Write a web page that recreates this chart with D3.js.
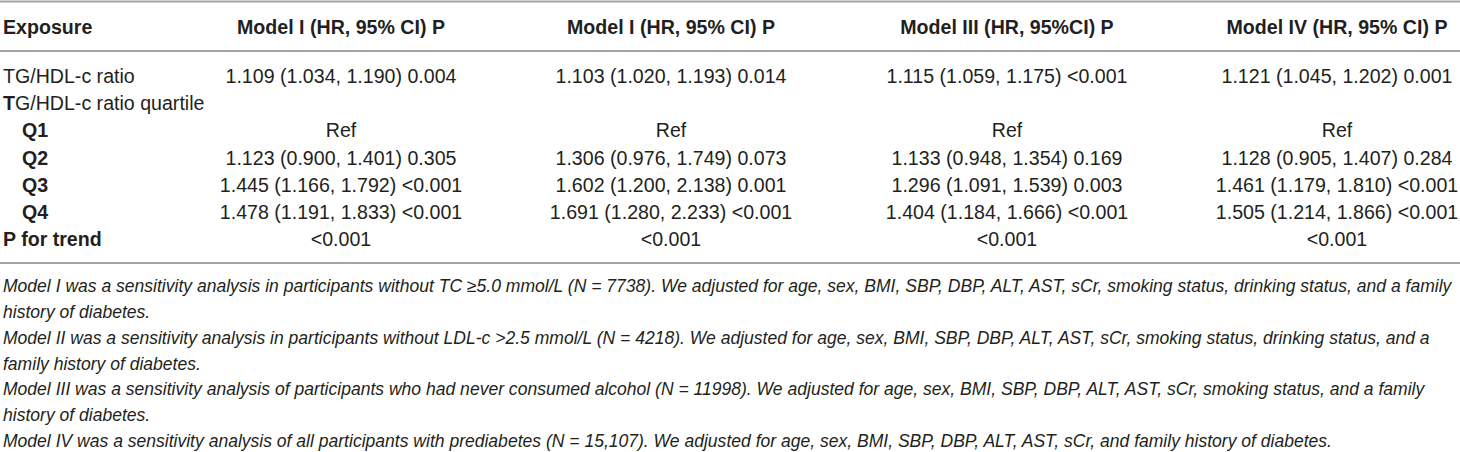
<!DOCTYPE html>
<html>
<head>
<meta charset="utf-8">
<script src="https://cdn.jsdelivr.net/npm/d3@7"></script>
<style>
    html, body { margin: 0; padding: 0; background: #fff; }
    svg { display: block; font-family: "Liberation Sans", Arial, Helvetica, sans-serif; }
</style>
</head>
<body>
<div id="table"></div>
<script>
// Column headers
const columnHeaders = ['Exposure', 'Model I (HR, 95% CI) P', 'Model I (HR, 95% CI) P', 'Model III (HR, 95%CI) P', 'Model IV (HR, 95% CI) P'];

// Row labels (first column)
const rowLabels = ['TG/HDL-c ratio', 'TG/HDL-c ratio quartile', 'Q1', 'Q2', 'Q3', 'Q4', 'P for trend'];

// Cell values per model
const modelI = ['1.109 (1.034, 1.190) 0.004', '', 'Ref', '1.123 (0.900, 1.401) 0.305', '1.445 (1.166, 1.792) <0.001', '1.478 (1.191, 1.833) <0.001', '<0.001'];
const modelII = ['1.103 (1.020, 1.193) 0.014', '', 'Ref', '1.306 (0.976, 1.749) 0.073', '1.602 (1.200, 2.138) 0.001', '1.691 (1.280, 2.233) <0.001', '<0.001'];
const modelIII = ['1.115 (1.059, 1.175) <0.001', '', 'Ref', '1.133 (0.948, 1.354) 0.169', '1.296 (1.091, 1.539) 0.003', '1.404 (1.184, 1.666) <0.001', '<0.001'];
const modelIV = ['1.121 (1.045, 1.202) 0.001', '', 'Ref', '1.128 (0.905, 1.407) 0.284', '1.461 (1.179, 1.810) <0.001', '1.505 (1.214, 1.866) <0.001', '<0.001'];

// Footnote lines
const footnotes = [
    'Model I was a sensitivity analysis in participants without TC \u22655.0 mmol/L (N = 7738). We adjusted for age, sex, BMI, SBP, DBP, ALT, AST, sCr, smoking status, drinking status, and a family',
    'history of diabetes.',
    'Model II was a sensitivity analysis in participants without LDL-c >2.5 mmol/L (N = 4218). We adjusted for age, sex, BMI, SBP, DBP, ALT, AST, sCr, smoking status, drinking status, and a',
    'family history of diabetes.',
    'Model III was a sensitivity analysis of participants who had never consumed alcohol (N = 11998). We adjusted for age, sex, BMI, SBP, DBP, ALT, AST, sCr, smoking status, and a family',
    'history of diabetes.',
    'Model IV was a sensitivity analysis of all participants with prediabetes (N = 15,107). We adjusted for age, sex, BMI, SBP, DBP, ALT, AST, sCr, and family history of diabetes.'
];

(function() {
    'use strict';

    const width = 1460;
    const height = 452;
    const ink = '#231f20';
    const ruleColor = '#a3a3a3';
    const bodySize = 19.6;

    const models = [modelI, modelII, modelIII, modelIV];

    const svg = d3.select('#table')
        .append('svg')
        .attr('width', width)
        .attr('height', height);

    // column centers of the model columns
    const colX = d3.scaleOrdinal()
        .domain(d3.range(models.length))
        .range([341, 671, 1007, 1337]);

    // text baselines of the body rows
    const rowY = d3.scalePoint()
        .domain(d3.range(rowLabels.length))
        .range([83, 246]);

    // horizontal rules
    const rules = [1.5, 51, 263];
    svg.selectAll('line.rule')
        .data(rules)
        .enter()
        .append('line')
        .attr('class', 'rule')
        .attr('x1', 0)
        .attr('x2', width)
        .attr('y1', d => d)
        .attr('y2', d => d)
        .attr('stroke', ruleColor)
        .attr('stroke-width', 2);

    // header
    svg.selectAll('text.head')
        .data(columnHeaders)
        .enter()
        .append('text')
        .attr('class', 'head')
        .attr('x', (d, i) => i === 0 ? 3 : colX(i - 1))
        .attr('y', 34)
        .attr('text-anchor', (d, i) => i === 0 ? 'start' : 'middle')
        .attr('font-weight', 'bold')
        .attr('font-size', bodySize)
        .attr('fill', ink)
        .text(d => d);

    // row labels: Q rows are bold and indented, quartile row has a bold first letter
    const boldRows = new Set([2, 3, 4, 5, 6]);
    const indentRows = new Set([2, 3, 4, 5]);

    const labels = svg.selectAll('text.label')
        .data(rowLabels)
        .enter()
        .append('text')
        .attr('class', 'label')
        .attr('x', (d, i) => indentRows.has(i) ? 22 : 3)
        .attr('y', (d, i) => rowY(i))
        .attr('font-size', bodySize)
        .attr('fill', ink)
        .attr('font-weight', (d, i) => boldRows.has(i) ? 'bold' : 'normal');

    labels.each(function(d, i) {
        const t = d3.select(this);
        if (i === 1) {
            t.append('tspan').attr('font-weight', 'bold').text(d.charAt(0));
            t.append('tspan').text(d.slice(1));
        } else {
            t.text(d);
        }
    });

    // model cells
    models.forEach((values, m) => {
        svg.selectAll('text.cell-' + m)
            .data(values)
            .enter()
            .append('text')
            .attr('class', 'cell-' + m)
            .attr('x', colX(m))
            .attr('y', (d, i) => rowY(i))
            .attr('text-anchor', 'middle')
            .attr('font-size', bodySize)
            .attr('fill', ink)
            .text(d => d);
    });

    // footnotes, condensed italic, squeezed to the full width of the table
    const noteY = d3.scalePoint()
        .domain(d3.range(footnotes.length))
        .range([292, 447]);

    const notes = svg.selectAll('text.note')
        .data(footnotes)
        .enter()
        .append('text')
        .attr('class', 'note')
        .attr('font-family', '"Liberation Sans Narrow", "Liberation Sans", Arial, sans-serif')
        .attr('font-style', 'italic')
        .attr('font-size', 18)
        .attr('fill', ink)
        .text(d => d);

    const natural = notes.nodes()[0].getComputedTextLength();
    const sx = natural > 0 ? 1449 / natural : 1;

    notes.attr('transform', (d, i) => `translate(3,${noteY(i)}) scale(${sx},1)`);
})();
</script>
</body>
</html>
